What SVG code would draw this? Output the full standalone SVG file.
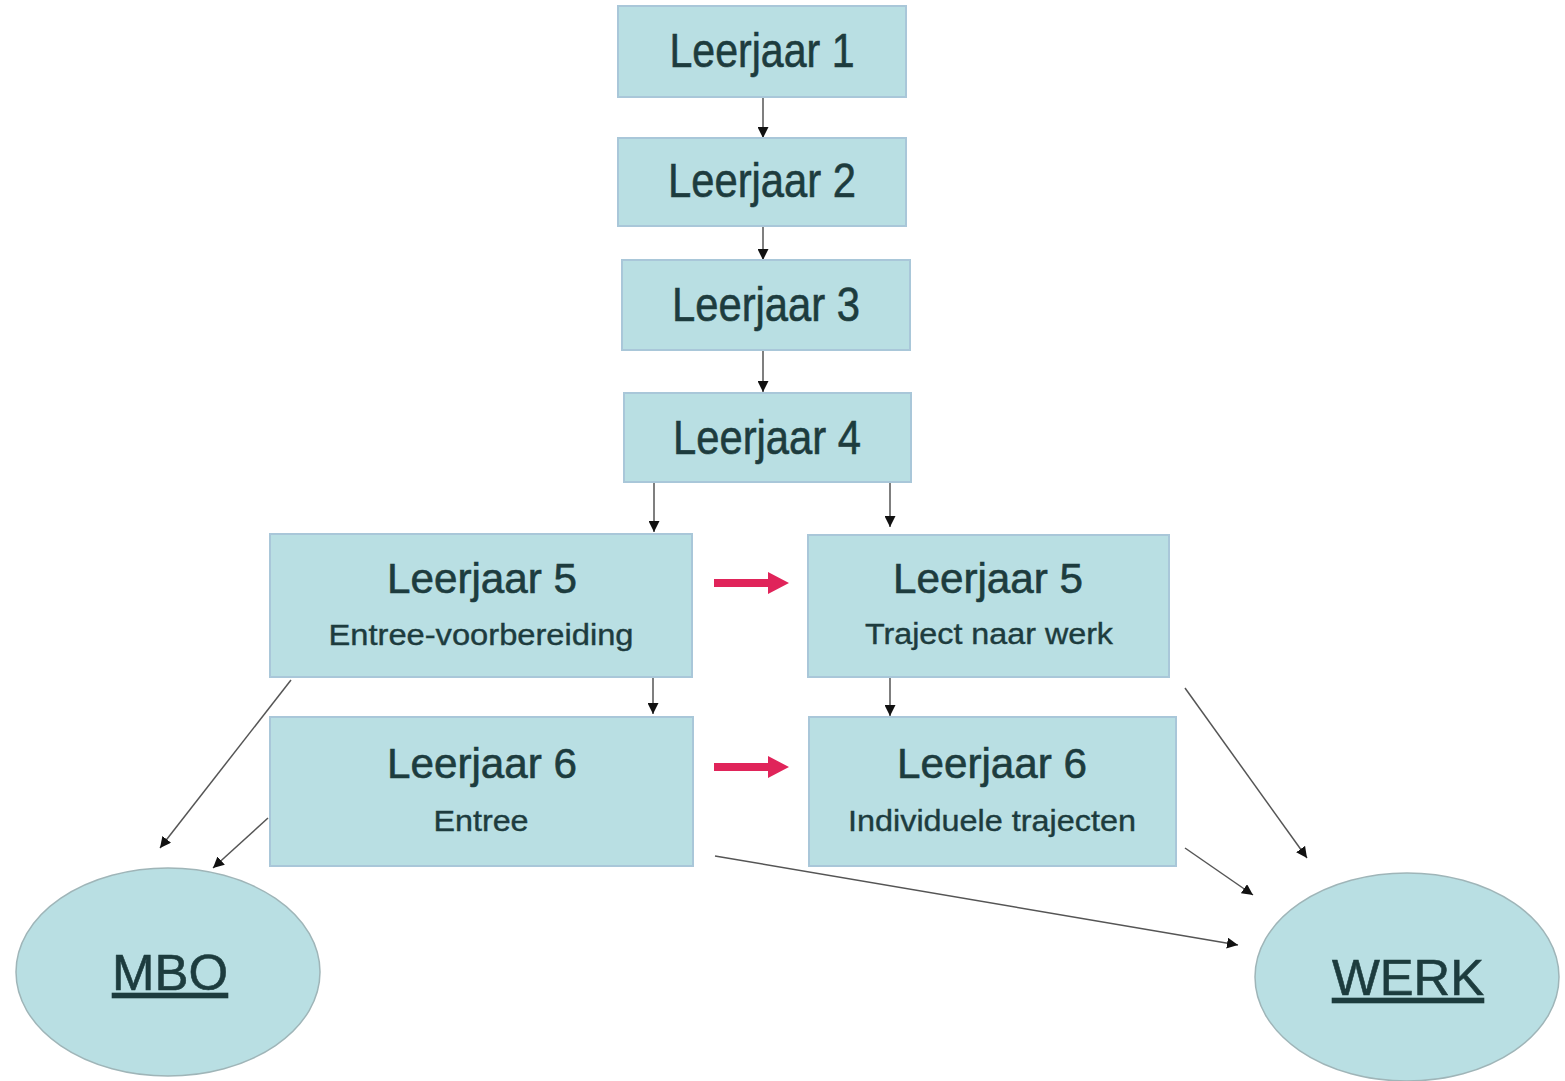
<svg xmlns="http://www.w3.org/2000/svg" width="1565" height="1081" viewBox="0 0 1565 1081">
<style>
.box{fill:#b9dfe3;stroke:#a9c7d9;stroke-width:2}
.ell{fill:#b9dfe3;stroke:#9fb5b8;stroke-width:1.5}
text{font-family:"Liberation Sans",Arial,sans-serif;fill:#1d3c3e;text-anchor:middle;stroke:#1d3c3e;stroke-width:0.6}
.t1{font-size:48px}
.t2{font-size:42px}
.st{font-size:30px;stroke-width:0.4}
.big{font-size:50px;text-decoration:underline}
.c{stroke:#555;stroke-width:1.5;fill:none;marker-end:url(#ah)}
.r{fill:#e0245a}
</style>
<defs>
<marker id="ah" viewBox="0 0 10 10" refX="10" refY="5" markerWidth="11" markerHeight="11" markerUnits="userSpaceOnUse" orient="auto"><path d="M0,0 L10,5 L0,10 z" fill="#111"/></marker>
</defs>
<rect width="1565" height="1081" fill="#fff"/>
<g id="connectors">
<line class="c" x1="763" y1="97" x2="763" y2="138"/>
<line class="c" x1="763" y1="226" x2="763" y2="260"/>
<line class="c" x1="763" y1="350" x2="763" y2="392"/>
<line class="c" x1="654" y1="482" x2="654" y2="532"/>
<line class="c" x1="890" y1="482" x2="890" y2="527"/>
<line class="c" x1="653" y1="677" x2="653" y2="714"/>
<line class="c" x1="890" y1="677" x2="890" y2="716"/>
<line class="c" x1="291" y1="680" x2="160" y2="848"/>
<line class="c" x1="268" y1="818" x2="213" y2="868"/>
<line class="c" x1="1185" y1="688" x2="1307" y2="858"/>
<line class="c" x1="1185" y1="848" x2="1253" y2="895"/>
<line class="c" x1="715" y1="856" x2="1238" y2="945"/>
<polygon class="r" points="714,579 768,579 768,572 789,583 768,594 768,587 714,587"/>
<polygon class="r" points="714,763 768,763 768,756 789,767 768,778 768,771 714,771"/>
</g>
<g id="leerjaar1"><rect class="box" x="618" y="6" width="288" height="91"/><text class="t1" x="762" y="67" textLength="185" lengthAdjust="spacingAndGlyphs">Leerjaar 1</text></g>
<g id="leerjaar2"><rect class="box" x="618" y="138" width="288" height="88"/><text class="t1" x="762" y="197" textLength="188" lengthAdjust="spacingAndGlyphs">Leerjaar 2</text></g>
<g id="leerjaar3"><rect class="box" x="622" y="260" width="288" height="90"/><text class="t1" x="766" y="321" textLength="188" lengthAdjust="spacingAndGlyphs">Leerjaar 3</text></g>
<g id="leerjaar4"><rect class="box" x="624" y="393" width="287" height="89"/><text class="t1" x="767" y="454" textLength="188" lengthAdjust="spacingAndGlyphs">Leerjaar 4</text></g>
<g id="leerjaar5a"><rect class="box" x="270" y="534" width="422" height="143"/><text class="t2" x="482" y="593" textLength="190" lengthAdjust="spacingAndGlyphs">Leerjaar 5</text><text class="st" x="481" y="645" textLength="305" lengthAdjust="spacingAndGlyphs">Entree-voorbereiding</text></g>
<g id="leerjaar6a"><rect class="box" x="270" y="717" width="423" height="149"/><text class="t2" x="482" y="778" textLength="190" lengthAdjust="spacingAndGlyphs">Leerjaar 6</text><text class="st" x="481" y="831" textLength="95" lengthAdjust="spacingAndGlyphs">Entree</text></g>
<g id="leerjaar5b"><rect class="box" x="808" y="535" width="361" height="142"/><text class="t2" x="988" y="593" textLength="190" lengthAdjust="spacingAndGlyphs">Leerjaar 5</text><text class="st" x="989" y="644" textLength="248" lengthAdjust="spacingAndGlyphs">Traject naar werk</text></g>
<g id="leerjaar6b"><rect class="box" x="809" y="717" width="367" height="149"/><text class="t2" x="992" y="778" textLength="190" lengthAdjust="spacingAndGlyphs">Leerjaar 6</text><text class="st" x="992" y="831" textLength="288" lengthAdjust="spacingAndGlyphs">Individuele trajecten</text></g>
<g id="mbo"><ellipse class="ell" cx="168" cy="972" rx="152" ry="104"/><text class="big" x="170" y="990" textLength="116" lengthAdjust="spacingAndGlyphs">MBO</text></g>
<g id="werk"><ellipse class="ell" cx="1407" cy="977" rx="152" ry="104"/><text class="big" x="1408" y="995" textLength="152" lengthAdjust="spacingAndGlyphs">WERK</text></g>
</svg>
